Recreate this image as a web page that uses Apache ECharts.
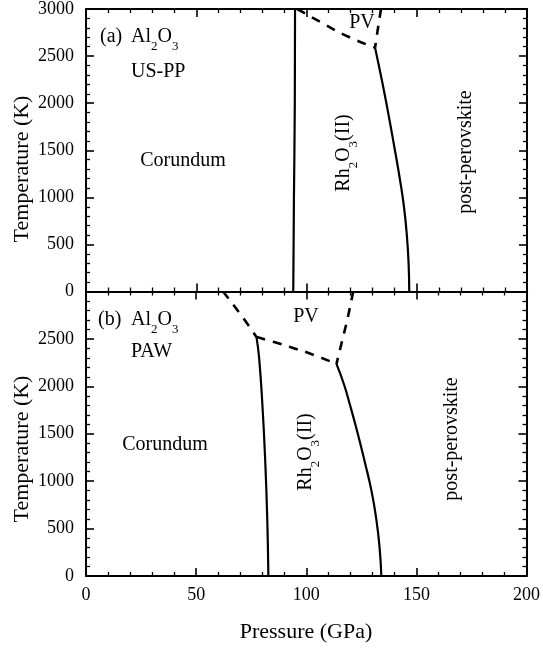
<!DOCTYPE html>
<html>
<head>
<meta charset="utf-8">
<script src="https://cdn.jsdelivr.net/npm/echarts@6/dist/echarts.min.js"></script>
<style>
  html, body { margin: 0; padding: 0; background: #fff; }
  #chart { width: 543px; height: 649px; }
</style>
</head>
<body>
<div id="chart"></div>
<script>
// Axis ranges and tick labels
const pressureTicks = [0, 50, 100, 150, 200];
const temperatureTicks = [0, 500, 1000, 1500, 2000, 2500, 3000];

// Phase boundaries, [pressure (GPa), temperature (K)]
// (a) US-PP
const usppCorRh = [[94.0, 0], [94.3, 1000], [94.7, 2000], [94.8, 3000]];
const usppRhPpv = [[146.6, 0], [146.3, 300], [145.5, 600], [144.2, 900], [142.3, 1200],
                   [140.1, 1500], [137.8, 1800], [135.4, 2100], [132.8, 2400], [131.1, 2590]];
const usppRhPv = [[95.8, 3000], [107.3, 2849], [119.0, 2705], [131.1, 2590]];
const usppPvPpv = [[133.8, 3000], [132.6, 2824], [131.1, 2590]];

// (b) PAW
const pawCorRh = [[82.8, 0], [82.3, 600], [81.4, 1200], [80.1, 1800], [78.6, 2300], [77.4, 2519]];
const pawCorPv = [[62.2, 3000], [70.6, 2745], [77.4, 2519]];
const pawRhPv = [[77.4, 2519], [85.0, 2470], [94.0, 2405], [103.1, 2334], [113.7, 2236]];
const pawPvPpv = [[121.3, 3000], [118.8, 2720], [116.4, 2490], [113.7, 2236]];
const pawRhPpv = [[134.1, 0], [133.3, 300], [131.8, 600], [129.6, 900], [126.6, 1200],
                  [123.4, 1500], [119.9, 1800], [117.0, 2030], [113.7, 2236]];

const FONT = 'Liberation Serif';
const pMin = pressureTicks[0], pMax = pressureTicks[pressureTicks.length - 1];
const pStep = pressureTicks[1] - pressureTicks[0];
const tMin = temperatureTicks[0], tMax = temperatureTicks[temperatureTicks.length - 1];
const tStep = temperatureTicks[1] - temperatureTicks[0];

function axis(base, extra) {
  return Object.assign({
    type: 'value',
    axisLine: { show: true, onZero: false, lineStyle: { color: '#000', width: 2 } },
    axisTick: { show: true, inside: true, length: 8, lineStyle: { color: '#000', width: 1.6 } },
    minorTick: { show: true, splitNumber: 5, length: 4, lineStyle: { color: '#000', width: 1.3 } },
    splitLine: { show: false },
    axisLabel: { show: false }
  }, base, extra);
}
const xBase = { min: pMin, max: pMax, interval: pStep };
const yBase = { min: tMin, max: tMax, interval: tStep };
const tickFont = { color: '#000', fontFamily: FONT, fontSize: 18, formatter: v => String(v) };

function boundary(data, xi, yi, dashed) {
  return {
    type: 'line', data: data, xAxisIndex: xi, yAxisIndex: yi,
    symbol: 'none', smooth: 0.5, silent: true,
    lineStyle: dashed ? { color: '#000', width: 2.6, type: [9, 8] }
                      : { color: '#000', width: 2.2 }
  };
}

// Rich text styles for chemical formulas with subscripts
const richStyles = {
  n: { fontFamily: FONT, fontSize: 20, lineHeight: 20, verticalAlign: 'top', fill: '#000' },
  s: { fontFamily: FONT, fontSize: 13, verticalAlign: 'top', padding: [13, 0, 0, 0], fill: '#000' }
};
function text(str, x, y, opts) {
  opts = opts || {};
  return {
    type: 'text', x: x, y: y, rotation: opts.rotation || 0, silent: true,
    style: {
      text: str, fontFamily: FONT, fontSize: opts.size || 20, fill: '#000',
      align: opts.align || 'center', verticalAlign: opts.valign || 'middle',
      rich: richStyles
    }
  };
}
const formulaAl = '{n|Al}{s|2}{n|O}{s|3}';
const formulaRh = '{n|Rh}{s|2}{n|O}{s|3}{n|(II)}';

const chart = echarts.init(document.getElementById('chart'), null, { renderer: 'canvas' });
chart.setOption({
  animation: false,
  backgroundColor: '#fff',
  grid: [
    { left: 86, right: 16, top: 8.5, height: 283 },
    { left: 86, right: 16, top: 291.5, height: 284.5 }
  ],
  xAxis: [
    axis(xBase, { gridIndex: 0, position: 'bottom' }),
    axis(xBase, { gridIndex: 0, position: 'top' }),
    axis(xBase, { gridIndex: 1, position: 'bottom',
      axisLabel: Object.assign({ show: true, margin: 10 }, tickFont) }),
    axis(xBase, { gridIndex: 1, position: 'top' })
  ],
  yAxis: [
    axis(yBase, { gridIndex: 0, position: 'left',
      axisLabel: Object.assign({ show: true, margin: 12 }, tickFont) }),
    axis(yBase, { gridIndex: 0, position: 'right' }),
    axis(yBase, { gridIndex: 1, position: 'left',
      axisLabel: Object.assign({ show: true, margin: 12, showMaxLabel: false }, tickFont) }),
    axis(yBase, { gridIndex: 1, position: 'right' })
  ],
  series: [
    boundary(usppCorRh, 0, 0, false),
    boundary(usppRhPpv, 0, 0, false),
    boundary(usppRhPv, 0, 0, true),
    boundary(usppPvPpv, 0, 0, true),
    boundary(pawCorRh, 2, 2, false),
    boundary(pawCorPv, 2, 2, true),
    boundary(pawRhPv, 2, 2, true),
    boundary(pawPvPpv, 2, 2, true),
    boundary(pawRhPpv, 2, 2, false)
  ],
  graphic: [
    // axis titles
    text('Temperature (K)', 22, 169, { size: 22, rotation: Math.PI / 2 }),
    text('Temperature (K)', 22, 449, { size: 22, rotation: Math.PI / 2 }),
    text('Pressure (GPa)', 306, 632, { size: 22 }),
    // panel (a)
    text('(a)', 100, 37, { align: 'left' }),
    text(formulaAl, 131, 27, { align: 'left', valign: 'top' }),
    text('US-PP', 131, 72, { align: 'left' }),
    text('Corundum', 183, 161),
    text('PV', 362, 23),
    text(formulaRh, 347, 153, { rotation: Math.PI / 2 }),
    text('post-perovskite', 466, 152, { rotation: Math.PI / 2 }),
    // panel (b)
    text('(b)', 98, 320, { align: 'left' }),
    text(formulaAl, 131, 310, { align: 'left', valign: 'top' }),
    text('PAW', 131, 352, { align: 'left' }),
    text('Corundum', 165, 445),
    text('PV', 306, 317),
    text(formulaRh, 309, 452, { rotation: Math.PI / 2 }),
    text('post-perovskite', 452, 439, { rotation: Math.PI / 2 })
  ]
});
</script>
</body>
</html>
